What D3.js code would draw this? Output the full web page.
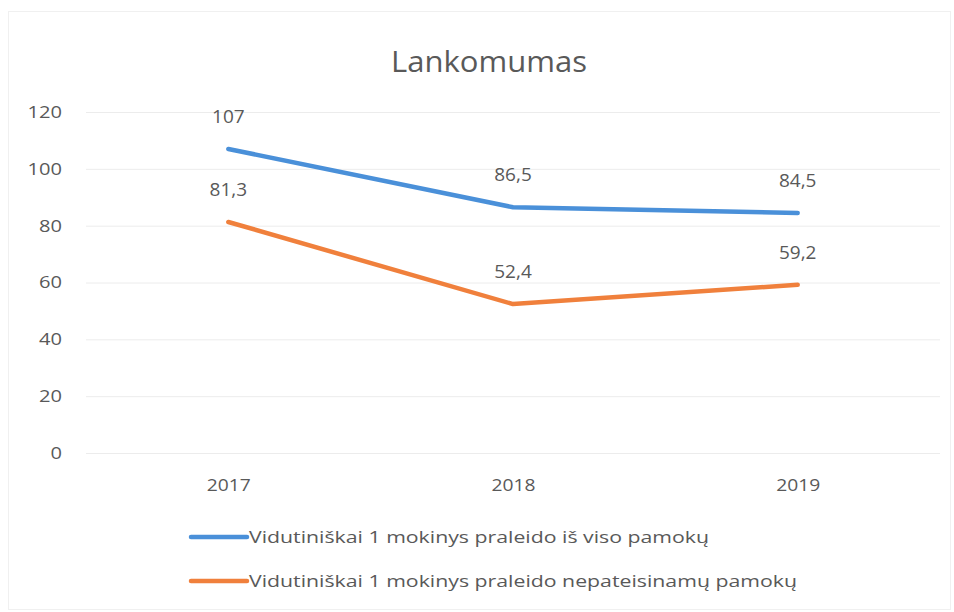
<!DOCTYPE html>
<html lang="en">
<head>
<meta charset="UTF-8">
<title>Lankomumas</title>
<script src="https://d3js.org/d3.v7.min.js"></script>
<style>
body { margin: 0; background: #fff; }
text { font-family: 'Open Sans', 'Noto Sans', sans-serif; fill: #595959; }
</style>
</head>
<body>
<svg class="container"></svg>
<script>
// chart data
const years = ['2017', '2018', '2019'];
const totalMissed = [107, 86.5, 84.5];
const unexcusedMissed = [81.3, 52.4, 59.2];
const seriesNames = [
    'Vidutiniškai 1 mokinys  praleido iš viso pamokų',
    'Vidutiniškai 1 mokinys praleido nepateisinamų  pamokų'
];
const yTicks = [0, 20, 40, 60, 80, 100, 120];

const width = 954, height = 612;
const margin = {left: 86, right: 14, top: 112, bottom: 161};

let svg = d3.select('svg.container')
    .attr('width', width)
    .attr('height', height);

// faint outer frame
svg.append('rect')
    .attr('x', 8.5).attr('y', 11.5)
    .attr('width', width - 12).attr('height', height - 14)
    .attr('fill', 'none')
    .attr('stroke', '#f0f0f0');

let x = d3.scalePoint()
    .domain(years)
    .range([margin.left, width - margin.right])
    .padding(0.5);

let y = d3.scaleLinear()
    .domain([0, 120])
    .range([height - margin.bottom + 2, margin.top]);

// gridlines + y labels
let yAxis = svg.append('g')
    .attr('transform', `translate(${margin.left},0)`)
    .call(d3.axisLeft(y).tickValues(yTicks).tickSize(-(width - margin.left - margin.right)).tickPadding(24));
yAxis.select('.domain').remove();
yAxis.selectAll('.tick line').attr('stroke', '#ececec');
yAxis.selectAll('.tick text')
    .attr('font-size', 17)
    .attr('textLength', d => String(d).length * 11.5)
    .attr('lengthAdjust', 'spacingAndGlyphs')
    .style('font-family', "'Open Sans', sans-serif")
    .attr('fill', '#7a7a7a');

// x labels
let xAxis = svg.append('g')
    .attr('transform', `translate(0,${y(0)})`)
    .call(d3.axisBottom(x).tickSize(0).tickPadding(26));
xAxis.select('.domain').remove();
xAxis.selectAll('.tick text')
    .attr('font-size', 17)
    .attr('textLength', 44)
    .attr('lengthAdjust', 'spacingAndGlyphs')
    .style('font-family', "'Open Sans', sans-serif")
    .attr('fill', '#666');

// title
svg.append('text')
    .attr('x', 489).attr('y', 72)
    .attr('text-anchor', 'middle')
    .attr('font-size', 30)
    .attr('fill', '#6a6a6a')
    .attr('textLength', 196)
    .attr('lengthAdjust', 'spacingAndGlyphs')
    .text('Lankomumas');

const colors = ['#4a90d9', '#f0803c'];
const series = [totalMissed, unexcusedMissed];

let line = d3.line()
    .x((d, i) => x(years[i]))
    .y(d => y(d));

series.forEach((vals, s) => {
    svg.append('path')
        .datum(vals)
        .attr('d', line)
        .attr('fill', 'none')
        .attr('stroke', colors[s])
        .attr('stroke-width', 4.5)
        .attr('stroke-linejoin', 'round')
        .attr('stroke-linecap', 'round');

    svg.append('g').selectAll('text')
        .data(vals)
        .enter().append('text')
        .attr('x', (d, i) => x(years[i]))
        .attr('y', d => y(d) - 26)
        .attr('text-anchor', 'middle')
        .attr('font-size', 19)
        .attr('fill', '#404040')
        .text(d => String(d).replace('.', ','));
});

// legend
let legend = svg.append('g');
seriesNames.forEach((name, s) => {
    let ly = 537 + s * 44;
    legend.append('line')
        .attr('x1', 191).attr('x2', 247)
        .attr('y1', ly).attr('y2', ly)
        .attr('stroke', colors[s])
        .attr('stroke-width', 4.5)
        .attr('stroke-linecap', 'round');
    legend.append('text')
        .attr('x', 249).attr('y', ly + 6)
        .attr('font-size', 17)
        .attr('fill', '#606060')
        .attr('textLength', s === 0 ? 460 : 548)
        .attr('lengthAdjust', 'spacingAndGlyphs')
        .text(name);
});
</script>
</body>
</html>
